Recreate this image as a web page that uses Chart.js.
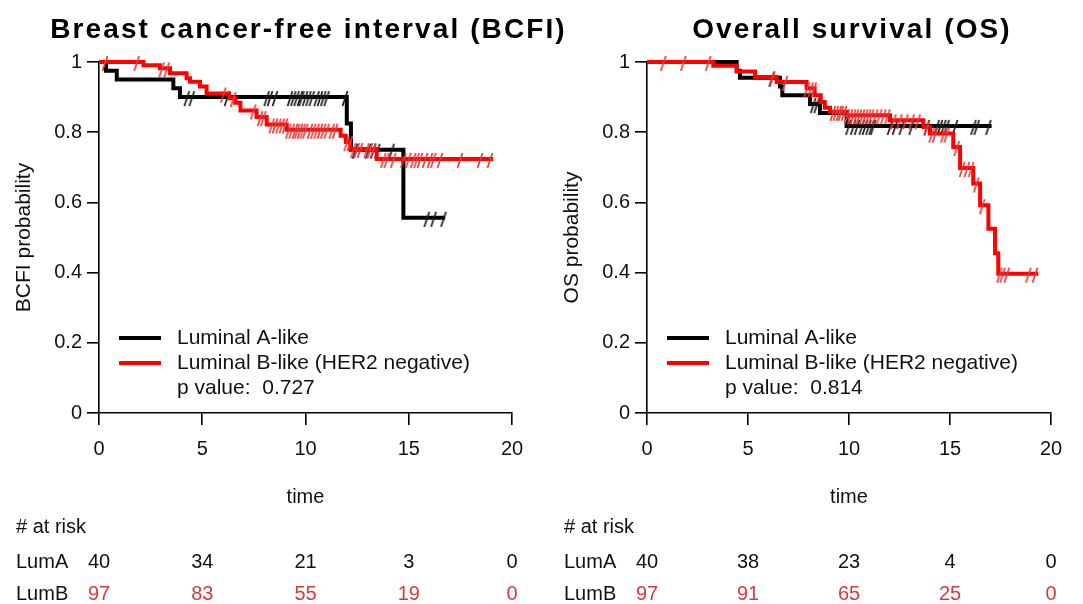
<!DOCTYPE html>
<html>
<head>
<meta charset="utf-8">
<script src="https://cdn.jsdelivr.net/npm/chart.js@4.4.1/dist/chart.umd.min.js"></script>
<style>
  html, body { margin: 0; padding: 0; background: #ffffff; }
  #wrap { position: relative; width: 1083px; height: 604px; overflow: hidden; background: #ffffff; }
  .panel { position: absolute; top: 0; height: 604px; }
  #p1 { left: 0; width: 580px; }
  #p2 { left: 548px; width: 535px; }
</style>
</head>
<body>
<div id="wrap">
  <div class="panel" id="p1"><canvas id="c1"></canvas></div>
  <div class="panel" id="p2"><canvas id="c2"></canvas></div>
</div>
<script>
// ---------- shared labels / ticks ----------
const timeTicks = [0, 5, 10, 15, 20];
const probTicks = [0, 0.2, 0.4, 0.6, 0.8, 1];
const groupLabels = ['Luminal A-like', 'Luminal B-like (HER2 negative)'];
const riskRowNames = ['LumA', 'LumB'];
const riskHeader = '# at risk';
const xAxisLabel = 'time';

// ---------- Breast cancer-free interval (BCFI) ----------
const bcfiTitle = 'Breast cancer-free interval (BCFI)';
const bcfiYLabel = 'BCFI probability';
const bcfiPValue = '0.727';
const bcfiLumATime = [0, 0.34, 0.86, 3.6, 3.92, 12.0, 12.2, 14.74, 16.76];
const bcfiLumASurv = [1, 0.975, 0.95, 0.925, 0.90, 0.825, 0.75, 0.556, 0.556];
const bcfiLumBTime = [0, 2.15, 2.95, 3.44, 4.24, 4.41, 4.89, 5.21, 6.3, 6.6, 6.85, 7.63, 8.12, 9.09, 11.7, 11.95, 12.16, 13.45, 19.09];
const bcfiLumBSurv = [1, 0.991, 0.982, 0.968, 0.954, 0.944, 0.93, 0.91, 0.897, 0.884, 0.862, 0.843, 0.822, 0.807, 0.79, 0.772, 0.752, 0.724, 0.724];
const bcfiLumACensor = [4.25, 4.49, 6.2, 8.12, 8.28, 8.52, 9.25, 9.41, 9.57, 9.73, 9.81, 9.98, 10.14, 10.3, 10.54, 10.7, 10.86, 11.02, 11.91, 12.4, 13.04, 13.28, 13.48, 14.17, 15.87, 16.2, 16.68];
const bcfiLumBCensor = [0.29, 1.82, 3.03, 3.28, 6.02, 6.5, 7.47, 7.8, 7.96, 8.36, 8.52, 8.69, 8.85, 9.01, 9.17, 9.33, 9.49, 9.6, 9.73, 9.86, 9.99, 10.22, 10.38, 10.54, 10.7, 10.86, 11.02, 11.27, 11.43, 11.99, 12.15, 12.32, 12.48, 12.64, 12.96, 13.12, 13.28, 13.77, 13.93, 14.25, 14.74, 14.98, 15.22, 15.38, 15.54, 15.79, 16.03, 16.19, 16.51, 17.48, 18.45, 18.93];
const bcfiRiskLumA = [40, 34, 21, 3, 0];
const bcfiRiskLumB = [97, 83, 55, 19, 0];

// ---------- Overall survival (OS) ----------
const osTitle = 'Overall survival (OS)';
const osYLabel = 'OS probability';
const osPValue = '0.814';
const osLumATime = [0, 4.44, 4.6, 6.58, 6.7, 8.07, 8.56, 9.88, 17.06];
const osLumASurv = [1, 0.975, 0.955, 0.93, 0.905, 0.88, 0.855, 0.818, 0.818];
const osLumBTime = [0, 3.28, 4.44, 5.35, 6.42, 7.9, 8.3, 8.6, 8.8, 9.06, 9.9, 12.03, 13.68, 14.01, 15.16, 15.5, 16.15, 16.49, 16.9, 17.23, 17.39, 19.37];
const osLumBSurv = [1, 0.989, 0.973, 0.957, 0.943, 0.925, 0.905, 0.886, 0.87, 0.858, 0.848, 0.834, 0.815, 0.796, 0.758, 0.698, 0.654, 0.592, 0.525, 0.455, 0.397, 0.397];
const osLumACensor = [6.17, 8.23, 8.4, 9.97, 10.21, 10.4, 10.63, 10.79, 10.96, 11.12, 11.2, 12.03, 12.28, 12.61, 13.1, 13.85, 14.34, 14.5, 14.67, 14.83, 15.25, 16.16, 16.32, 16.9];
const osLumBCensor = [0.81, 1.8, 3.03, 6.2, 6.83, 7.9, 8.1, 8.25, 9.2, 9.35, 9.5, 9.6, 9.75, 9.9, 10.05, 10.2, 10.35, 10.5, 10.65, 10.8, 10.95, 11.1, 11.3, 11.5, 11.7, 11.9, 12.2, 12.5, 12.8, 13.1, 13.4, 13.85, 14.09, 14.26, 14.67, 14.83, 15.33, 15.6, 15.83, 16.05, 16.3, 16.6, 17.45, 17.6, 17.81, 18.88, 19.21];
const osRiskLumA = [40, 38, 23, 4, 0];
const osRiskLumB = [97, 91, 65, 25, 0];

// ---------- styling ----------
const FONT = '"Liberation Sans", Arial, Helvetica, sans-serif';
const colA = '#000000';
const colB = '#ff0000';
const markColA = '#1e1e1e';
const markColB = '#e03c3c';
const riskColB = '#d83a3a';
const textCol = '#111111';

Chart.defaults.font.family = FONT;
Chart.defaults.color = textCol;

function stepValue(times, surv, t) {
  let v = surv[0];
  for (let i = 0; i < times.length; i++) { if (times[i] <= t) v = surv[i]; }
  return v;
}

function markCanvas(color) {
  const c = document.createElement('canvas');
  c.width = 10; c.height = 24;
  const g = c.getContext('2d');
  g.strokeStyle = color; g.lineWidth = 1.7;
  g.beginPath(); g.moveTo(2.5, 21); g.lineTo(7.5, 6); g.stroke();
  return c;
}
const markA = markCanvas(markColA);
const markB = markCanvas(markColB);

const kmDecor = {
  id: 'kmDecor',
  afterDraw(chart, args, o) {
    const ctx = chart.ctx;
    const area = chart.chartArea;
    const xs = chart.scales.x;
    ctx.save();
    // title
    ctx.font = 'bold 28px ' + FONT;
    try { ctx.letterSpacing = '2.1px'; } catch (e) {}
    ctx.fillStyle = '#000';
    ctx.textAlign = 'center';
    ctx.textBaseline = 'alphabetic';
    ctx.fillText(o.title, (area.left + area.right) / 2 + 3, 38);
    try { ctx.letterSpacing = '0px'; } catch (e) {}
    // legend
    const lx0 = area.left + 20, lx1 = area.left + 62, tx = area.left + 78;
    const rows = [338, 363, 388];
    ctx.lineWidth = 4;
    for (let i = 0; i < 2; i++) {
      const ds = chart.data.datasets[i];
      ctx.strokeStyle = ds.borderColor;
      ctx.beginPath(); ctx.moveTo(lx0, rows[i]); ctx.lineTo(lx1, rows[i]); ctx.stroke();
    }
    ctx.font = '21px ' + FONT;
    ctx.fillStyle = textCol;
    ctx.textAlign = 'left';
    ctx.textBaseline = 'middle';
    ctx.fillText(chart.data.datasets[0].label, tx, rows[0]);
    ctx.fillText(chart.data.datasets[1].label, tx, rows[1]);
    ctx.fillText('p value:  ' + o.pValue, tx, rows[2]);
    // at-risk table
    const lblX = area.left - 83;
    ctx.font = '20px ' + FONT;
    ctx.fillText(riskHeader, lblX, 527);
    ctx.fillText(riskRowNames[0], lblX, 562);
    ctx.fillText(riskRowNames[1], lblX, 594);
    ctx.textAlign = 'center';
    for (let i = 0; i < timeTicks.length; i++) {
      const px = xs.getPixelForValue(timeTicks[i]);
      ctx.fillStyle = textCol;
      ctx.fillText(String(o.riskA[i]), px, 562);
      ctx.fillStyle = riskColB;
      ctx.fillText(String(o.riskB[i]), px, 594);
    }
    ctx.restore();
  }
};

function makePanel(id, cfg) {
  const lineA = cfg.tA.map((t, i) => ({x: t, y: cfg.sA[i]}));
  const lineB = cfg.tB.map((t, i) => ({x: t, y: cfg.sB[i]}));
  const cenA = cfg.cA.map(t => ({x: t, y: stepValue(cfg.tA, cfg.sA, t)}));
  const cenB = cfg.cB.map(t => ({x: t, y: stepValue(cfg.tB, cfg.sB, t)}));
  const axisGrid = { drawOnChartArea: false, drawTicks: true, tickLength: 12, color: '#000', lineWidth: 1.6 };
  const axisBorder = { display: true, color: '#000', width: 1.6 };
  return new Chart(document.getElementById(id), {
    type: 'line',
    data: {
      datasets: [
        { label: groupLabels[0], data: lineA, borderColor: colA, borderWidth: 4, stepped: true, pointRadius: 0, fill: false, clip: false, order: 4 },
        { label: groupLabels[1], data: lineB, borderColor: colB, borderWidth: 4, stepped: true, pointRadius: 0, fill: false, clip: false, order: 2 },
        { type: 'scatter', label: 'censor A', data: cenA, pointStyle: markA, pointRadius: 5, showLine: false, clip: false, order: 3, borderColor: markColA },
        { type: 'scatter', label: 'censor B', data: cenB, pointStyle: markB, pointRadius: 5, showLine: false, clip: false, order: 1, borderColor: markColB }
      ]
    },
    options: {
      responsive: true,
      maintainAspectRatio: false,
      animation: false,
      events: [],
      layout: { padding: { top: 62, left: 0, right: cfg.padRight, bottom: 0 } },
      plugins: {
        legend: { display: false },
        tooltip: { enabled: false },
        title: { display: false },
        kmDecor: { title: cfg.title, pValue: cfg.p, riskA: cfg.rA, riskB: cfg.rB }
      },
      scales: {
        x: {
          type: 'linear', min: 0, max: 20,
          afterBuildTicks: s => { s.ticks = timeTicks.map(v => ({value: v})); },
          afterFit: s => { s.height = 191; },
          grid: axisGrid, border: axisBorder,
          ticks: { font: { size: 20 }, color: textCol, padding: 12, maxRotation: 0, callback: v => String(v) },
          title: { display: true, text: xAxisLabel, font: { size: 20 }, color: textCol, padding: { top: 0, bottom: 95 } }
        },
        y: {
          type: 'linear', min: 0, max: 1,
          afterBuildTicks: s => { s.ticks = probTicks.map(v => ({value: v})); },
          afterFit: s => { s.width = 99; },
          grid: axisGrid, border: axisBorder,
          ticks: { font: { size: 20 }, color: textCol, padding: 5, callback: v => String(v) },
          title: { display: true, text: cfg.yLabel, font: { size: 21 }, color: textCol, padding: { top: 12, bottom: 0 } }
        }
      }
    },
    plugins: [kmDecor]
  });
}

makePanel('c1', {
  title: bcfiTitle, yLabel: bcfiYLabel, p: bcfiPValue,
  tA: bcfiLumATime, sA: bcfiLumASurv, tB: bcfiLumBTime, sB: bcfiLumBSurv,
  cA: bcfiLumACensor, cB: bcfiLumBCensor, rA: bcfiRiskLumA, rB: bcfiRiskLumB,
  padRight: 68
});
makePanel('c2', {
  title: osTitle, yLabel: osYLabel, p: osPValue,
  tA: osLumATime, sA: osLumASurv, tB: osLumBTime, sB: osLumBSurv,
  cA: osLumACensor, cB: osLumBCensor, rA: osRiskLumA, rB: osRiskLumB,
  padRight: 32
});
</script>
</body>
</html>
